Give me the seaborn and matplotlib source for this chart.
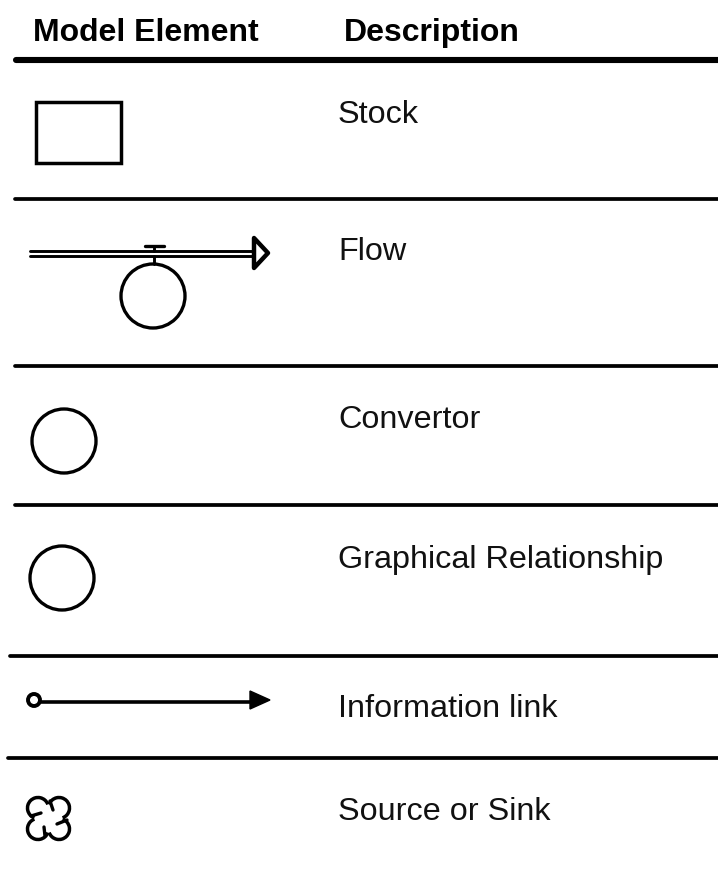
import pandas as pd
import seaborn as sns
import matplotlib.pyplot as plt
from matplotlib.patches import Arc, Circle, Polygon, Rectangle

sns.set_theme(style='white')
plt.rcParams['font.family'] = ['Liberation Sans', 'DejaVu Sans']

headers = ['Model Element', 'Description']
header_x = [33, 344]
descriptions = ['Stock', 'Flow', 'Convertor', 'Graphical Relationship', 'Information link', 'Source or Sink']
desc_x = [338, 338, 338, 338, 338, 338]
desc_y = [115, 252, 420, 560, 709, 812]
rule_y = [199, 366, 505, 656, 758]
rule_start = [15, 15, 15, 10, 8]
circle_x = [153, 64, 62]
circle_y = [296, 441, 578]
circle_r = [32, 32, 32]

fig, ax = plt.subplots(figsize=(7.18, 8.69), dpi=100)
ax.set_position([0, 0, 1, 1])
ax.set_xlim(0, 718)
ax.set_ylim(869, 0)
ax.axis('off')


def stroke(xs, ys, lw=2.2):
    sns.lineplot(x=xs, y=ys, ax=ax, color='black', linewidth=lw, estimator=None,
                 sort=False, legend=False, solid_capstyle='round')


# header and row rules
for h, x in zip(headers, header_x):
    ax.text(x, 33, h, fontsize=23, fontweight='bold', color='black', va='center', ha='left')
stroke([16, 718], [60, 60], lw=4.4)
for y, x0 in zip(rule_y, rule_start):
    stroke([x0, 718], [y, y], lw=2.7)

for d, x, y in zip(descriptions, desc_x, desc_y):
    ax.text(x, y, d, fontsize=23.3, color='#111111', va='center', ha='left')

# stock
ax.add_patch(Rectangle((36, 102), 85, 61, fill=False, edgecolor='black', linewidth=2.5))

# flow
stroke([30, 253], [251, 251], lw=2.1)
stroke([30, 253], [256, 256], lw=2.1)
stroke([145, 164], [246, 246], lw=2.4)
stroke([154, 154], [246, 251], lw=2.1)
stroke([154, 154], [256, 264], lw=2.1)
ax.add_patch(Polygon([[254, 238], [268, 253], [254, 268]], closed=True, fill=False,
                     edgecolor='black', linewidth=3.2, joinstyle='round'))

# convertor, graph, flow circle
for x, y, r in zip(circle_x, circle_y, circle_r):
    ax.add_patch(Circle((x, y), r, fill=False, edgecolor='black', linewidth=2.4))

# information link
ax.add_patch(Circle((34, 700), 6, fill=False, edgecolor='black', linewidth=2.8))
stroke([41, 252], [702, 702], lw=2.6)
ax.add_patch(Polygon([[250, 691], [270, 700], [250, 709]], closed=True, color='black'))

# source or sink
for cx, cy, t1, t2 in [(38, 808, 110, 340), (59, 808, 200, 70), (59, 829, 290, 160), (38, 829, 20, 250)]:
    ax.add_patch(Arc((cx, cy), 21, 21, theta1=t1, theta2=t2, edgecolor='black', linewidth=2.5))
stroke([31, 41], [816, 813], lw=2.4)
stroke([50, 53], [801, 810], lw=2.4)
stroke([67, 57], [820, 824], lw=2.4)
stroke([44, 45], [827, 836], lw=2.4)

fig.savefig('out.png', dpi=100, facecolor='white')
